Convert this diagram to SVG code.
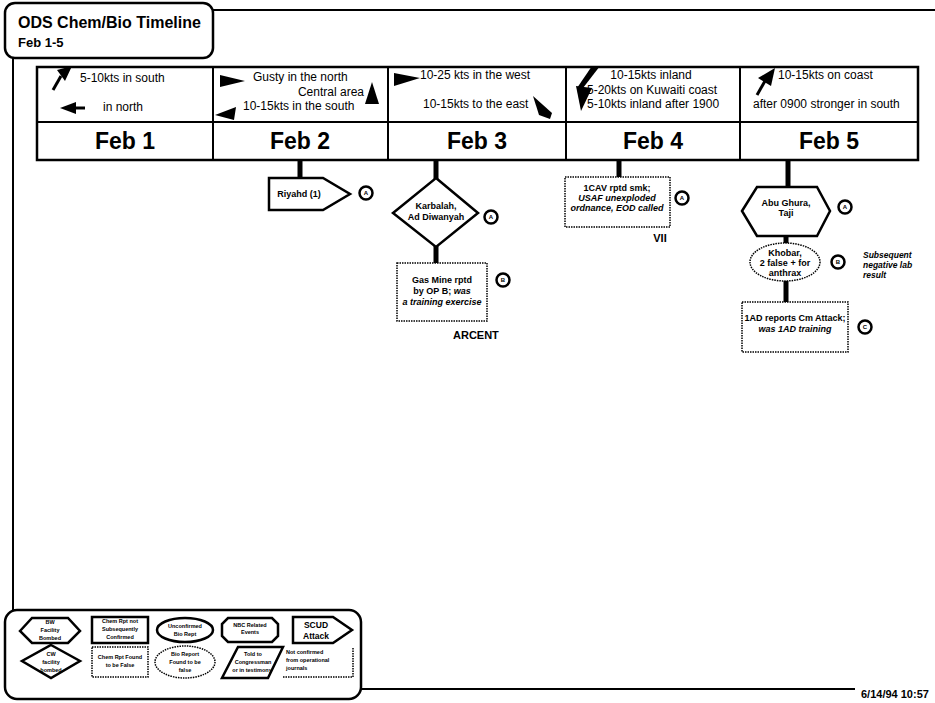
<svg xmlns="http://www.w3.org/2000/svg" width="935" height="703" viewBox="0 0 935 703">
<style>
.t{font-family:"Liberation Sans",Arial,Helvetica,sans-serif;fill:#000}
.w{font-size:12px}
.n{font-size:9px;font-weight:bold;text-anchor:middle}
.ns{font-size:8.5px;font-weight:bold}
.i{font-style:italic}
.day{font-size:23px;font-weight:bold;text-anchor:middle}
.lg{font-size:5.5px;font-weight:bold;text-anchor:middle}
.lgs{font-size:5.5px;font-weight:bold}
.box{fill:#fff;stroke:#000;stroke-width:2.5}
.frame{fill:none;stroke:#000;stroke-width:2}
.dot{fill:#fff;stroke:#000;stroke-width:1.5;stroke-dasharray:1.5 1}
.stem{stroke:#000;stroke-width:5}
.circ{fill:#fff;stroke:#000;stroke-width:2.5}
.ltr{font-size:6px;font-weight:bold;text-anchor:middle}
.arr{fill:#000;stroke:none}
.tail{stroke:#000;stroke-width:3;fill:none}
</style>
<rect width="935" height="703" fill="#fff"/>

<g id="frame">
<line class="frame" x1="213" y1="10" x2="935" y2="10"/>
<line class="frame" x1="13" y1="58" x2="13" y2="610"/>
<line class="frame" x1="361" y1="689" x2="855" y2="689"/>
</g>

<g id="title">
<rect class="box" x="5" y="3" width="208" height="55" rx="10"/>
<text class="t" x="18" y="28" font-size="16" font-weight="bold">ODS Chem/Bio Timeline</text>
<text class="t" x="18" y="47" font-size="13" font-weight="bold">Feb 1-5</text>
</g>

<g id="table">
<rect class="box" x="37" y="67" width="881" height="93"/>
<line class="frame" x1="37" y1="122" x2="918" y2="122" stroke-width="2.5"/>
<line class="frame" x1="213" y1="67" x2="213" y2="160" stroke-width="2.5"/>
<line class="frame" x1="388" y1="67" x2="388" y2="160" stroke-width="2.5"/>
<line class="frame" x1="566" y1="67" x2="566" y2="160" stroke-width="2.5"/>
<line class="frame" x1="740" y1="67" x2="740" y2="160" stroke-width="2.5"/>
</g>

<g id="wind1">
<polygon class="arr" points="57,70 72,66 65,81"/>
<line class="tail" x1="61" y1="76" x2="53" y2="90"/>
<text class="t w" x="80" y="82">5-10kts in south</text>
<polygon class="arr" points="60,108 76,102 76,114"/>
<line class="tail" x1="74" y1="108" x2="85" y2="108"/>
<text class="t w" x="103" y="111">in north</text>
</g>
<g id="wind2">
<polygon class="arr" points="220,75 245,81 220,87"/>
<text class="t w" x="253" y="81">Gusty in the north</text>
<text class="t w" x="364" y="96" text-anchor="end">Central area</text>
<polygon class="arr" points="372,82 379,104 365,104"/>
<polygon class="arr" points="215,115 236,107 234,120"/>
<text class="t w" x="243" y="110">10-15kts in the south</text>
</g>
<g id="wind3">
<polygon class="arr" points="394,73 420,78 394,86"/>
<text class="t w" x="420" y="79">10-25 kts in the west</text>
<text class="t w" x="423" y="108">10-15kts to the east</text>
<polygon class="arr" points="533,96 552,113 550,119 539,115"/>
</g>
<g id="wind4">
<polygon class="arr" points="592,66 600,66 583,88 577,88"/>
<polygon class="arr" points="576,86 592,88 581,111"/>
<text class="t w" x="651" y="79" text-anchor="middle">10-15kts inland</text>
<text class="t w" x="587" y="94">5-20kts on Kuwaiti coast</text>
<text class="t w" x="587" y="108">5-10kts inland after 1900</text>
</g>
<g id="wind5">
<polygon class="arr" points="758,78 775,68 771,86"/>
<line class="tail" x1="765" y1="81" x2="757" y2="95"/>
<text class="t w" x="778" y="79">10-15kts on coast</text>
<text class="t w" x="753" y="108">after 0900 stronger in south</text>
</g>

<g id="days">
<text class="t day" x="125" y="149">Feb 1</text>
<text class="t day" x="300" y="149">Feb 2</text>
<text class="t day" x="477" y="149">Feb 3</text>
<text class="t day" x="653" y="149">Feb 4</text>
<text class="t day" x="829" y="149">Feb 5</text>
</g>

<g id="connectors">
<line class="stem" x1="300" y1="160" x2="300" y2="179"/>
<line class="stem" x1="436" y1="160" x2="436" y2="179"/>
<line class="stem" x1="436" y1="246" x2="436" y2="264"/>
<line class="stem" x1="619" y1="160" x2="619" y2="178"/>
<line class="stem" x1="788" y1="160" x2="788" y2="188"/>
<line class="stem" x1="786" y1="236" x2="786" y2="245"/>
<line class="stem" x1="786" y1="279" x2="786" y2="303"/>
</g>

<g id="riyahd">
<polygon class="box" points="269,178 323,178 350,194 323,210 269,210"/>
<text class="t n" x="299" y="197">Riyahd (1)</text>
<circle class="circ" cx="366" cy="193" r="6.5"/>
<text class="t ltr" x="366" y="195">A</text>
</g>

<g id="karbalah">
<polygon class="box" points="436,178 478,213 436,247 393,213"/>
<text class="t n" x="436" y="209">Karbalah,</text>
<text class="t n" x="436" y="220">Ad Diwanyah</text>
<circle class="circ" cx="491" cy="217" r="6.5"/>
<text class="t ltr" x="491" y="219">A</text>
</g>

<g id="gasmine">
<rect class="dot" x="397" y="263" width="90" height="58"/>
<text class="t n" x="442" y="283">Gas Mine rptd</text>
<text class="t n" x="442" y="294">by OP B; <tspan class="i">was</tspan></text>
<text class="t n i" x="442" y="305">a training exercise</text>
<circle class="circ" cx="503" cy="280" r="6.5"/>
<text class="t ltr" x="503" y="282">B</text>
<text class="t" x="453" y="339" font-size="11" font-weight="bold">ARCENT</text>
</g>

<g id="cav">
<rect class="dot" x="565" y="177" width="105" height="50"/>
<text class="t n" x="617" y="191">1CAV rptd smk;</text>
<text class="t n i" x="617" y="201">USAF unexploded</text>
<text class="t n i" x="617" y="211">ordnance, EOD called</text>
<circle class="circ" cx="682" cy="198" r="6.5"/>
<text class="t ltr" x="682" y="200">A</text>
<text class="t" x="660" y="242" font-size="11" font-weight="bold" text-anchor="middle">VII</text>
</g>

<g id="abughura">
<polygon class="box" points="742,211 757,187 817,187 830,211 817,236 757,236"/>
<text class="t n" x="786" y="206">Abu Ghura,</text>
<text class="t n" x="786" y="216">Taji</text>
<circle class="circ" cx="845" cy="207" r="6.5"/>
<text class="t ltr" x="845" y="209">A</text>
</g>

<g id="khobar">
<ellipse class="dot" cx="785" cy="262" rx="35" ry="19"/>
<text class="t n" x="785" y="256">Khobar,</text>
<text class="t n" x="785" y="266">2 false + for</text>
<text class="t n" x="785" y="276">anthrax</text>
<circle class="circ" cx="838" cy="262" r="6.5"/>
<text class="t ltr" x="838" y="264">B</text>
<text class="t ns i" x="863" y="258">Subsequent</text>
<text class="t ns i" x="863" y="268">negative lab</text>
<text class="t ns i" x="863" y="278">result</text>
</g>

<g id="ad1">
<rect class="dot" x="742" y="302" width="106" height="50"/>
<text class="t n" x="795" y="321">1AD reports Cm Attack;</text>
<text class="t n i" x="795" y="332">was 1AD training</text>
<circle class="circ" cx="865" cy="327" r="6.5"/>
<text class="t ltr" x="865" y="329">C</text>
</g>

<g id="legend">
<rect class="box" x="5" y="610" width="356" height="89" rx="12"/>
<g id="lg-bw">
<polygon class="box" stroke-width="2" points="20,631 32,618 68,618 80,631 68,643 32,643"/>
<text class="t lg" x="50" y="624">BW</text>
<text class="t lg" x="50" y="632">Facility</text>
<text class="t lg" x="50" y="640">Bombed</text>
</g>
<g id="lg-chemnc">
<rect class="box" x="92" y="617" width="56" height="26" stroke-width="3"/>
<text class="t lg" x="120" y="623">Chem Rpt not</text>
<text class="t lg" x="120" y="631">Subsequently</text>
<text class="t lg" x="120" y="639">Confirmed</text>
</g>
<g id="lg-bio">
<ellipse class="box" cx="185" cy="630" rx="28" ry="12" stroke-width="3"/>
<text class="t lg" x="185" y="628">Unconfirmed</text>
<text class="t lg" x="185" y="636">Bio Rept</text>
</g>
<g id="lg-nbc">
<polygon class="box" stroke-width="2.5" points="228,618 272,618 278,624 278,636 272,642 228,642 222,636 222,624"/>
<text class="t lg" x="250" y="627">NBC Related</text>
<text class="t lg" x="250" y="634">Events</text>
</g>
<g id="lg-scud">
<polygon class="box" stroke-width="2" points="293,617 333,617 352,630 333,643 293,643"/>
<text class="t" x="316" y="628" font-size="8.5" font-weight="bold" text-anchor="middle">SCUD</text>
<text class="t" x="316" y="639" font-size="8.5" font-weight="bold" text-anchor="middle">Attack</text>
</g>
<g id="lg-cw">
<polygon class="box" stroke-width="2.5" points="51,645 80,661 51,678 22,661"/>
<text class="t lg" x="51" y="656">CW</text>
<text class="t lg" x="51" y="664">facility</text>
<text class="t lg" x="51" y="672">bombed</text>
</g>
<g id="lg-chemf">
<rect class="dot" x="92" y="647" width="56" height="30"/>
<text class="t lg" x="120" y="659">Chem Rpt Found</text>
<text class="t lg" x="120" y="667">to be False</text>
</g>
<g id="lg-biof">
<ellipse class="dot" cx="185" cy="662" rx="30" ry="16"/>
<text class="t lg" x="185" y="656">Bio Report</text>
<text class="t lg" x="185" y="664">Found to be</text>
<text class="t lg" x="185" y="672">false</text>
</g>
<g id="lg-told">
<polygon class="box" stroke-width="2.5" points="238,647 283,647 268,678 222,678"/>
<text class="t lg" x="253" y="656" font-size="5">Told to</text>
<text class="t lg" x="253" y="664" font-size="5">Congressman</text>
<text class="t lg" x="252" y="672" font-size="5">or in testimony</text>
</g>
<g id="lg-notconf">
<text class="t lgs" x="286" y="654">Not confirmed</text>
<text class="t lgs" x="286" y="662">from operational</text>
<text class="t lgs" x="286" y="670">journals</text>
<polyline fill="none" stroke="#000" stroke-width="1.5" stroke-dasharray="1.5 1" points="283,677 353,677 353,647"/>
</g>
</g>

<text class="t" x="861" y="698" font-size="11" font-weight="bold">6/14/94 10:57</text>
</svg>
